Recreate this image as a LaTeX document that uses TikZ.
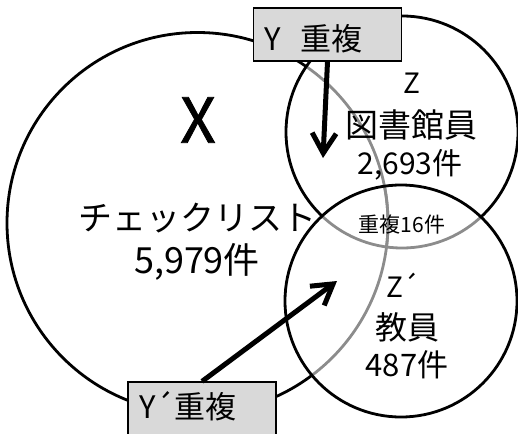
\documentclass[tikz,border=0pt]{standalone}
\usepackage{fontspec}
\setmainfont{Noto Sans CJK JP}
\newfontfamily\propkana{Noto Sans CJK JP}[CharacterWidth=Proportional]
\newfontfamily\heavyx{Noto Sans CJK JP}[FakeBold=1.2]
\usepackage{tikz}
\usetikzlibrary{arrows.meta}
\definecolor{boxgray}{rgb}{0.85,0.85,0.85}
\definecolor{overlap}{rgb}{0.55,0.55,0.55}
\tikzstyle{ring}=[line width=2.8pt]
\tikzstyle{hidden ring}=[line width=2.8pt, draw=overlap]
\tikzstyle{tag}=[draw, fill=boxgray, line width=1.2pt, inner sep=0pt,
               inner xsep=11pt, text width=126pt, align=left,
               font=\fontsize{31}{31}\selectfont]
\tikzstyle{pointer}=[line width=5pt, -{Straight Barb[length=20pt,width=24pt]}]

\begin{document}
\begin{tikzpicture}[x=1pt, y=-1pt]
\useasboundingbox (0,0) rectangle (518,433);
\def \rx {190.5pt}
\def \rz {116pt}
\coordinate (xc) at (197.5,223);
\coordinate (zc) at (402,132);
\coordinate (zpc) at (401,301);

% X: black outside Z and Z', grey inside
\begin{scope}[even odd rule]
  \clip (-100,-100) rectangle (700,600) (zc) circle (\rz);
  \clip (-100,-100) rectangle (700,600) (zpc) circle (\rz);
  \draw[ring] (xc) circle (\rx);
\end{scope}
\foreach \c in {zc,zpc}
{
  \begin{scope}
    \clip (\c) circle (\rz);
    \draw[hidden ring] (xc) circle (\rx);
  \end{scope}
}
% Z: grey inside Z'
\begin{scope}[even odd rule]
  \clip (-100,-100) rectangle (700,600) (zpc) circle (\rz);
  \draw[ring] (zc) circle (\rz);
\end{scope}
\begin{scope}
  \clip (zpc) circle (\rz);
  \draw[hidden ring] (zc) circle (\rz);
\end{scope}
\draw[ring] (zpc) circle (\rz);

\node[font=\heavyx\fontsize{62}{62}\selectfont] (xname) at (198,120) {X};
\node[font=\propkana\fontsize{34}{34}\selectfont] (xlist) at (197,218) {チェックリスト};
\node[font=\fontsize{36}{36}\selectfont] (xcount) at (197,262) {5,979件};

\node[font=\fontsize{28}{28}\selectfont] (zname) at (412,83) {Z};
\node[font=\fontsize{33}{33}\selectfont] (zlib) at (411,125) {図書館員};
\node[font=\fontsize{30}{30}\selectfont] (zcount) at (410,165) {2,693件};
\node[font=\fontsize{21}{21}\selectfont] (both) at (402,225) {重複16件};
\node[font=\fontsize{28}{28}\selectfont] (zpname) at (403,285) {Z´};
\node[font=\fontsize{32}{32}\selectfont] (zpstaff) at (407,327) {教員};
\node[font=\fontsize{31}{31}\selectfont] (zpcount) at (407,365) {487件};

\node[tag, text height=43pt, text depth=10pt] (ybox) at (327.5,34.5) {Y\hspace{20pt}重複};
\node[tag, text height=36pt, text depth=20pt] (ypbox) at (202,410) {Y´重複};

\coordinate (ytip) at (323,158);
\coordinate (yptip) at (337,281);
\draw[pointer] (ybox.south) -- (ytip);
\draw[pointer] (ypbox.north) -- (yptip);
\end{tikzpicture}
\end{document}
